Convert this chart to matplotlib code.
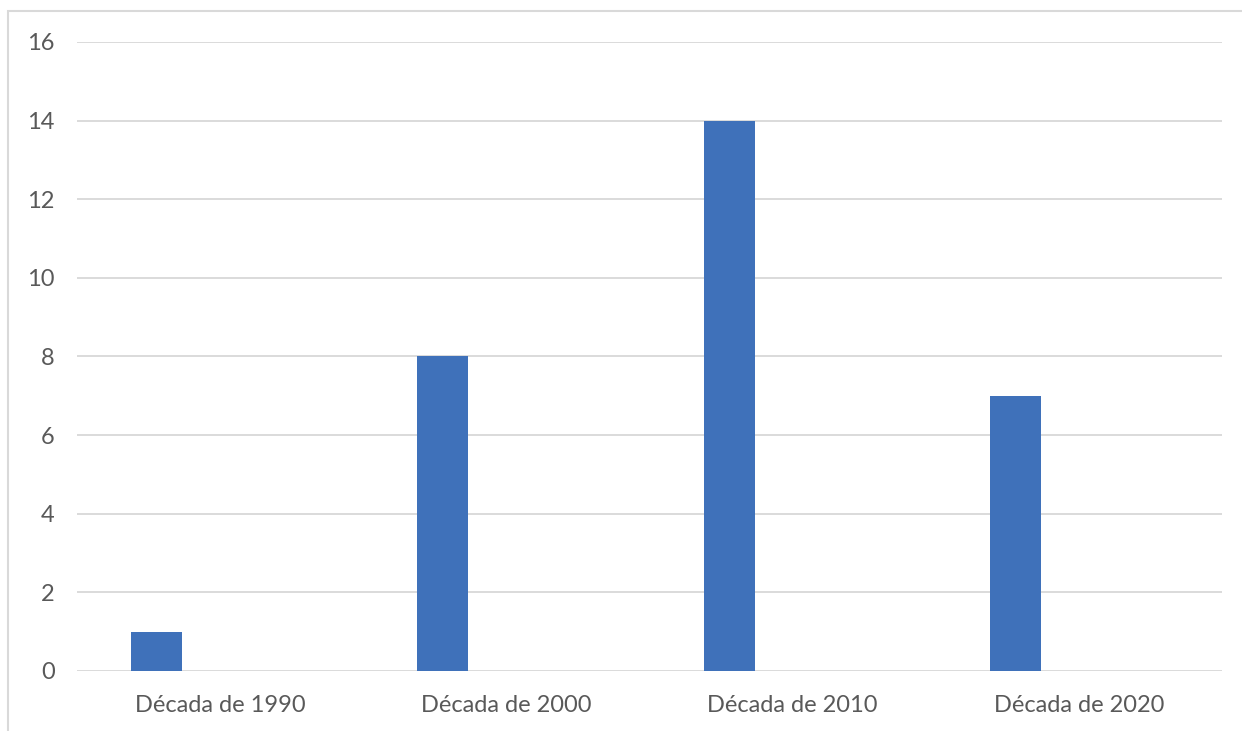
import matplotlib.pyplot as plt
from matplotlib.patches import Rectangle
import numpy as np

# Dados: número de registos por década
decadas = ["Década de 1990", "Década de 2000", "Década de 2010", "Década de 2020"]
valores = [1, 8, 14, 7]
y_ticks = [0, 2, 4, 6, 8, 10, 12, 14, 16]

plt.rcParams["font.family"] = ["Lato", "DejaVu Sans"]

fig = plt.figure(figsize=(12.42, 7.31), dpi=100)
ax = fig.add_axes([0.062, 0.0821, 0.9219, 0.8605])

# moldura cinzenta do gráfico
fig.patches.append(Rectangle((8 / 1242, -0.01), 1.02, 1 - 11 / 731 + 0.01,
                             transform=fig.transFigure, fill=False,
                             edgecolor="#D9D9D9", linewidth=1.5))

x = np.arange(len(decadas))
ax.bar(x - 0.222, valores, width=0.178, color="#3F71BA", zorder=3)

ax.set_xlim(-0.5, len(decadas) - 0.5)
ax.set_ylim(0, 16)
ax.set_yticks(y_ticks)
ax.set_xticks(x)
ax.set_xticklabels(decadas)

for y in y_ticks:
    ax.axhline(y, color="#D4D4D4", linewidth=1.2, zorder=1)

for s in ax.spines.values():
    s.set_visible(False)

ax.tick_params(axis="both", length=0, labelsize=17, labelcolor="#595959")
ax.tick_params(axis="x", pad=17)
ax.tick_params(axis="y", pad=16)

fig.savefig("out.png", dpi=100)
